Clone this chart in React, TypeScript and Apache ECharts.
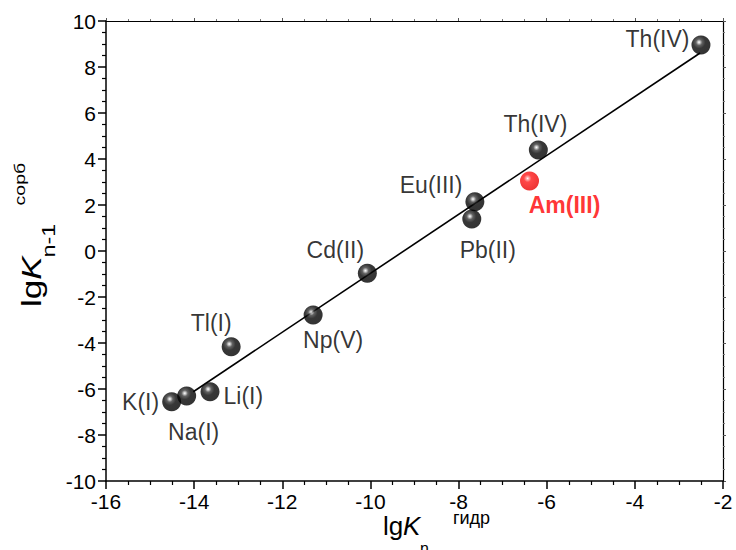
import React, { useEffect, useRef } from "react";
import * as echarts from "echarts";

// Data
const ions = ["K(I)", "Na(I)", "Li(I)", "Tl(I)", "Np(V)", "Cd(II)", "Pb(II)", "Eu(III)", "Th(IV)", "Th(IV)"];
const lgKhydr = [-14.51, -14.17, -13.64, -13.16, -11.3, -10.07, -7.7, -7.63, -6.19, -2.5];
const lgKsorb = [-6.55, -6.3, -6.12, -4.16, -2.78, -0.97, 1.39, 2.14, 4.39, 8.96];

const amIon = ["Am(III)"];
const amX = [-6.39];
const amY = [3.04];

const fitX = [-14.02, -2.52];
const fitY = [-6.12, 8.61];

const xTicks = { min: -16, max: -2, interval: 2 };
const yTicks = { min: -10, max: 10, interval: 2 };

const FONT = "'Liberation Sans', Arial, sans-serif";

// label placement per point (style only)
const labelPlacement: any[] = [
  { position: "left", distance: 3, offset: [0, 0] },
  { position: "bottom", distance: 15, offset: [7, 0] },
  { position: "right", distance: 4, offset: [0, 4] },
  { position: "top", distance: 3, offset: [-20, 0] },
  { position: "bottom", distance: 4, offset: [20, 0] },
  { position: "top", distance: 2, offset: [-32, 0] },
  { position: "bottom", distance: 10, offset: [16, 0] },
  { position: "left", distance: 3, offset: [0, -17] },
  { position: "top", distance: 5, offset: [-3, 0] },
  { position: "left", distance: 2, offset: [0, -6] },
];

const blackBall = {
  type: "radial",
  x: 0.4,
  y: 0.36,
  r: 0.66,
  colorStops: [
    { offset: 0, color: "#ffffff" },
    { offset: 0.08, color: "#c8c8c8" },
    { offset: 0.25, color: "#3a3a3a" },
    { offset: 0.5, color: "#050505" },
    { offset: 1, color: "#000000" },
  ],
};
const redBall = {
  type: "radial",
  x: 0.4,
  y: 0.36,
  r: 0.66,
  colorStops: [
    { offset: 0, color: "#ffffff" },
    { offset: 0.1, color: "#ff9a9a" },
    { offset: 0.3, color: "#ff1a1a" },
    { offset: 1, color: "#e80000" },
  ],
};

export default function App() {
  const ref = useRef<HTMLDivElement>(null);
  useEffect(() => {
    document.body.style.margin = "0";
    if (!ref.current) return;
    const chart = echarts.init(ref.current, null, { renderer: "svg" });
    const axisCommon = {
      type: "value",
      splitLine: { show: false },
      axisLine: { show: true, onZero: false, lineStyle: { color: "#000", width: 1.5 } },
      minorTick: { show: true, splitNumber: 4, length: 4, lineStyle: { color: "#000", width: 1.2 } },
      axisTick: { show: true, inside: false, length: 8, lineStyle: { color: "#000", width: 1.5 } },
    };
    const mirror = {
      ...axisCommon,
      axisLabel: { show: false },
      axisTick: { show: true, inside: false, length: 3, lineStyle: { color: "#555", width: 1 } },
      minorTick: { show: true, splitNumber: 4, length: 2, lineStyle: { color: "#777", width: 1 } },
      axisLine: { show: true, onZero: false, lineStyle: { color: "#000", width: 1.2 } },
    };
    const data = lgKhydr.map((x, i) => ({
      value: [x, lgKsorb[i]],
      name: ions[i],
      label: {
        show: true,
        formatter: ions[i],
        position: labelPlacement[i].position,
        distance: labelPlacement[i].distance,
        offset: labelPlacement[i].offset,
        fontSize: 23,
        fontFamily: FONT,
        color: "#000",
      },
    }));
    const amData = amX.map((x, i) => ({
      value: [x, amY[i]],
      name: amIon[i],
      label: {
        show: true,
        formatter: amIon[i],
        position: "bottom",
        distance: 3,
        offset: [35, 0],
        fontSize: 23,
        fontWeight: "bold",
        fontFamily: FONT,
        color: "#ff0000",
      },
    }));
    chart.setOption({
      animation: false,
      backgroundColor: "#fff",
      grid: { left: 106, right: 13, top: 21, bottom: 69, containLabel: false },
      xAxis: [
        {
          ...axisCommon,
          ...xTicks,
          position: "bottom",
          axisLabel: { fontSize: 21, color: "#000", fontFamily: FONT, margin: 10, showMaxLabel: true },
        },
        { ...mirror, ...xTicks, position: "top" },
      ],
      yAxis: [
        {
          ...axisCommon,
          ...yTicks,
          position: "left",
          axisLabel: { fontSize: 21, color: "#000", fontFamily: FONT, margin: 10 },
        },
        { ...mirror, ...yTicks, position: "right" },
      ],
      series: [
        {
          type: "line",
          data: fitX.map((x, i) => [x, fitY[i]]),
          symbol: "none",
          lineStyle: { color: "#000", width: 1.6 },
          z: 1,
        },
        {
          type: "scatter",
          data,
          symbol: "circle",
          symbolSize: 19,
          itemStyle: { color: blackBall },
          z: 3,
        },
        {
          type: "scatter",
          data: amData,
          symbol: "circle",
          symbolSize: 19,
          itemStyle: { color: redBall },
          z: 3,
        },
      ],
      graphic: [
        {
          type: "group",
          x: 383,
          y: 526,
          children: [
            { type: "text", x: 0, y: 0, style: { text: "lg", font: `26px ${FONT}`, fill: "#000", verticalAlign: "middle" } },
            { type: "text", x: 20, y: 0, style: { text: "K", font: `italic 26px ${FONT}`, fill: "#000", verticalAlign: "middle" } },
            { type: "text", x: 37, y: 22, style: { text: "n", font: `16px ${FONT}`, fill: "#000", verticalAlign: "middle" } },
            { type: "text", x: 70, y: -8, style: { text: "гидр", font: `18px ${FONT}`, fill: "#000", verticalAlign: "middle" } },
          ],
        },
        {
          type: "group",
          x: 32,
          y: 307,
          rotation: Math.PI / 2,
          scaleX: 1.3,
          children: [
            { type: "text", x: 0, y: 0, style: { text: "lg", font: `27px ${FONT}`, fill: "#000", verticalAlign: "middle" } },
            { type: "text", x: 21, y: 0, style: { text: "K", font: `italic 27px ${FONT}`, fill: "#000", verticalAlign: "middle" } },
            { type: "text", x: 38, y: 17, style: { text: "n-1", font: `18px ${FONT}`, fill: "#000", verticalAlign: "middle" } },
            { type: "text", x: 78, y: -12, style: { text: "сорб", font: `15px ${FONT}`, fill: "#000", verticalAlign: "middle" } },
          ],
        },
      ],
    });
    return () => chart.dispose();
  }, []);
  return <div ref={ref} style={{ width: 736, height: 550 }} />;
}
